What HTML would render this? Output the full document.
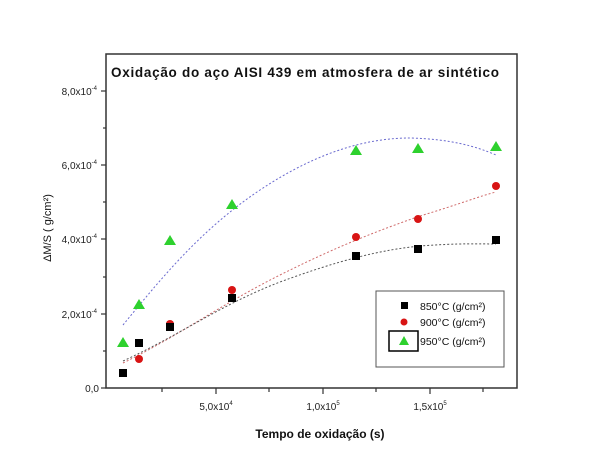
<!DOCTYPE html>
<html><head><style>body{margin:0;background:#fff}svg{display:block}</style></head><body>
<svg width="600" height="464" xmlns="http://www.w3.org/2000/svg" font-family="Liberation Sans, sans-serif">
<rect width="600" height="464" fill="#fff"/>
<rect x="106" y="54" width="411" height="334" fill="none" stroke="#333" stroke-width="1.5"/>
<g stroke="#333" stroke-width="1.2">
<line x1="101" y1="388" x2="106" y2="388"/><line x1="101" y1="314" x2="106" y2="314"/><line x1="101" y1="239" x2="106" y2="239"/><line x1="101" y1="165" x2="106" y2="165"/><line x1="101" y1="91" x2="106" y2="91"/>
<line x1="103" y1="351" x2="106" y2="351"/><line x1="103" y1="277" x2="106" y2="277"/><line x1="103" y1="202" x2="106" y2="202"/><line x1="103" y1="128" x2="106" y2="128"/>
<line x1="216" y1="388" x2="216" y2="394"/><line x1="323" y1="388" x2="323" y2="394"/><line x1="430" y1="388" x2="430" y2="394"/>
<line x1="162" y1="388" x2="162" y2="392"/><line x1="269" y1="388" x2="269" y2="392"/><line x1="376" y1="388" x2="376" y2="392"/><line x1="483" y1="388" x2="483" y2="392"/>
</g>
<g font-size="10" fill="#222" text-anchor="end">
<text x="99" y="392">0,0</text>
<text x="97" y="318">2,0x10<tspan font-size="6" dy="-5">-4</tspan></text>
<text x="97" y="243">4,0x10<tspan font-size="6" dy="-5">-4</tspan></text>
<text x="97" y="169">6,0x10<tspan font-size="6" dy="-5">-4</tspan></text>
<text x="97" y="95">8,0x10<tspan font-size="6" dy="-5">-4</tspan></text>
</g>
<g font-size="10" fill="#222" text-anchor="middle">
<text x="216" y="410">5,0x10<tspan font-size="6" dy="-5">4</tspan></text>
<text x="323" y="410">1,0x10<tspan font-size="6" dy="-5">5</tspan></text>
<text x="430" y="410">1,5x10<tspan font-size="6" dy="-5">5</tspan></text>
</g>
<text x="111" y="77" font-size="13.5" font-weight="bold" fill="#111" textLength="388">Oxidação do aço AISI 439 em atmosfera de ar sintético</text>
<text x="320" y="438" font-size="12" font-weight="bold" fill="#111" text-anchor="middle">Tempo de oxidação (s)</text>
<text transform="translate(51,228) rotate(-90)" font-size="11" fill="#111" text-anchor="middle">ΔM/S  ( g/cm²)</text>
<g fill="none" stroke-width="1" stroke-dasharray="2,2">
<path d="M123,325 C160,280 200,230 260,190 C320,150 370,138 410,138 C450,139 475,146 496,155" stroke="#6a6acf"/>
<path d="M123,363 C180,335 220,305 280,275 C340,245 380,230 420,216 C460,204 480,196 496,192" stroke="#cf6a6a"/>
<path d="M123,361 C180,335 220,305 280,282 C340,260 380,250 420,246 C460,243 480,244 496,244" stroke="#555"/>
</g>
<g fill="#2ed12e">
<polygon points="123,337 117,347 129,347"/><polygon points="139,299 133,309 145,309"/><polygon points="170,235 164,245 176,245"/><polygon points="232,199 226,209 238,209"/><polygon points="356,145 350,155 362,155"/><polygon points="418,143 412,153 424,153"/><polygon points="496,141 490,151 502,151"/>
</g>
<g fill="#d81414">
<circle cx="123" cy="373" r="4"/><circle cx="139" cy="359" r="4"/><circle cx="170" cy="324" r="4"/><circle cx="232" cy="290" r="4"/><circle cx="356" cy="237" r="4"/><circle cx="418" cy="219" r="4"/><circle cx="496" cy="186" r="4"/>
</g>
<g fill="#000">
<rect x="119" y="369" width="8" height="8"/><rect x="135" y="339" width="8" height="8"/><rect x="166" y="323" width="8" height="8"/><rect x="228" y="294" width="8" height="8"/><rect x="352" y="252" width="8" height="8"/><rect x="414" y="245" width="8" height="8"/><rect x="492" y="236" width="8" height="8"/>
</g>
<rect x="376" y="291" width="128" height="76" fill="#fff" stroke="#555" stroke-width="1"/>
<rect x="389" y="331" width="29" height="20" fill="none" stroke="#000" stroke-width="1.5"/>
<rect x="401" y="302" width="7" height="7" fill="#000"/>
<circle cx="404" cy="322" r="3.5" fill="#d81414"/>
<polygon points="404,336 399,345 409,345" fill="#2ed12e"/>
<g font-size="10.5" fill="#111">
<text x="420" y="310">850°C (g/cm²)</text>
<text x="420" y="326">900°C (g/cm²)</text>
<text x="420" y="345">950°C (g/cm²)</text>
</g>
</svg>
</body></html>
